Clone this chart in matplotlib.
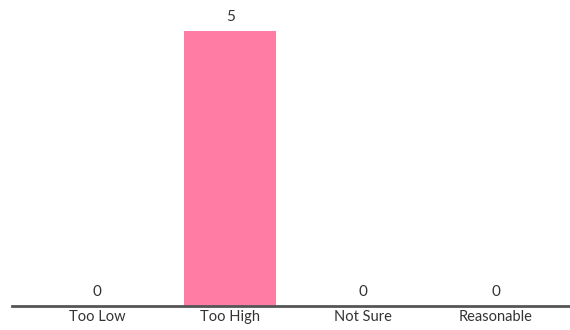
import matplotlib
matplotlib.use('Agg')
import matplotlib.pyplot as plt
import numpy as np

# chart data
categories = ['Too Low', 'Too High', 'Not Sure', 'Reasonable']
counts = [0, 5, 0, 0]

plt.rcParams['font.family'] = ['Lato', 'DejaVu Sans']

fig = plt.figure(figsize=(5.7, 3.3), dpi=100)
ax = fig.add_axes([12 / 570, 24 / 330, 1 - 12 / 570, 306 / 330])

x = np.arange(len(categories))
bars = ax.bar(x, counts, width=0.69, color='#ff7ca4')

# value labels above each bar
for xi, v in zip(x, counts):
    ax.text(xi, v + 0.12, str(v), ha='center', va='bottom', fontsize=11, color='#333333')

ax.set_xlim(-0.64, 3.556)
ax.set_ylim(0, 5.56)
ax.set_xticks(x)
ax.set_xticklabels(categories, fontsize=10.5, color='#333333')
ax.tick_params(axis='x', length=0, pad=3)
ax.set_yticks([])

for side in ['top', 'right', 'left']:
    ax.spines[side].set_visible(False)
ax.spines['bottom'].set_color('#555555')
ax.spines['bottom'].set_linewidth(2)

fig.savefig('out.png', dpi=100)
